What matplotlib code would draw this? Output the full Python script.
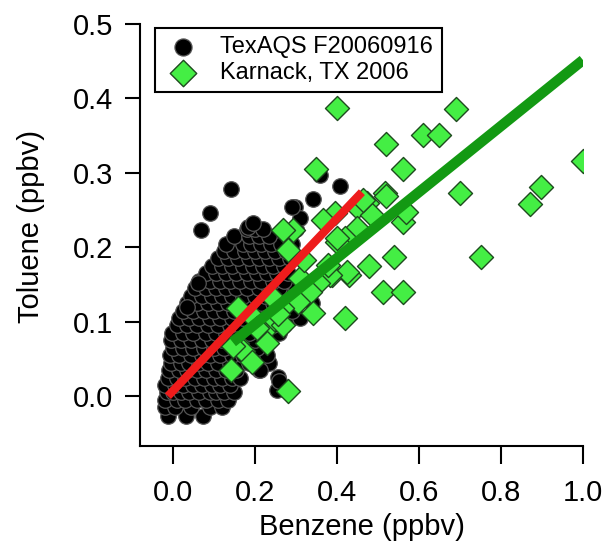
#!/usr/bin/env python3

import numpy as np
import matplotlib
matplotlib.use('Agg')
import matplotlib.pyplot as plt

plt.rcParams['font.family'] = ['Liberation Sans', 'DejaVu Sans']

# TexAQS F20060916 (toluene level, benzene values)
tex_row_y = [-0.027, -0.015, -0.005, 0.005, 0.015, 0.025, 0.035, 0.045, 0.055, 0.065,
             0.075, 0.085, 0.095, 0.105, 0.115, 0.125, 0.135, 0.145, 0.155, 0.165,
             0.175, 0.185, 0.195, 0.205, 0.215, 0.225]
tex_row_x = [
    [-0.012, 0.032, 0.073],
    [-0.018, 0.005, 0.045, 0.09, 0.12],
    [-0.02, 0.01, 0.03, 0.06, 0.08, 0.11, 0.135],
    [-0.015, 0.0, 0.02, 0.04, 0.065, 0.09, 0.105, 0.125, 0.15],
    [-0.02, 0.005, 0.025, 0.05, 0.07, 0.095, 0.115, 0.14],
    [-0.012, 0.01, 0.03, 0.055, 0.075, 0.1, 0.12, 0.145, 0.165],
    [-0.01, 0.015, 0.035, 0.06, 0.08, 0.105, 0.13, 0.155, 0.21],
    [-0.005, 0.02, 0.04, 0.065, 0.085, 0.11, 0.14, 0.165, 0.185, 0.215, 0.235],
    [-0.008, 0.015, 0.045, 0.07, 0.09, 0.115, 0.145, 0.17, 0.2, 0.23],
    [0.0, 0.025, 0.05, 0.075, 0.1, 0.125, 0.15, 0.18, 0.205],
    [-0.004, 0.02, 0.045, 0.07, 0.095, 0.12, 0.145, 0.175, 0.2, 0.225],
    [-0.003, 0.025, 0.05, 0.08, 0.105, 0.13, 0.16, 0.185, 0.215, 0.24, 0.26],
    [0.01, 0.035, 0.06, 0.085, 0.11, 0.14, 0.165, 0.19, 0.22, 0.245, 0.27],
    [0.015, 0.04, 0.065, 0.09, 0.115, 0.145, 0.17, 0.2, 0.23, 0.255, 0.285, 0.31],
    [0.025, 0.05, 0.075, 0.1, 0.125, 0.15, 0.18, 0.205, 0.235, 0.26, 0.29],
    [0.035, 0.06, 0.085, 0.11, 0.135, 0.16, 0.19, 0.215, 0.245, 0.27, 0.34],
    [0.045, 0.07, 0.095, 0.12, 0.145, 0.17, 0.2, 0.225, 0.25, 0.28],
    [0.055, 0.08, 0.105, 0.13, 0.155, 0.18, 0.21, 0.235, 0.26, 0.3],
    [0.065, 0.09, 0.115, 0.14, 0.165, 0.19, 0.215, 0.245, 0.27],
    [0.08, 0.105, 0.13, 0.155, 0.18, 0.205, 0.23, 0.255, 0.28],
    [0.095, 0.12, 0.145, 0.17, 0.195, 0.22, 0.245, 0.27],
    [0.11, 0.135, 0.16, 0.185, 0.21, 0.235, 0.26, 0.285],
    [0.125, 0.15, 0.175, 0.2, 0.225, 0.25, 0.275],
    [0.13, 0.17, 0.19, 0.215, 0.24, 0.265, 0.29],
    [0.15, 0.185, 0.21, 0.235, 0.28],
    [0.18, 0.2, 0.22, 0.3],
]
# scattered TexAQS points outside the main cloud
tex_extra_x = [0.068, 0.09, 0.141, 0.183, 0.195, 0.298, 0.31, 0.341, 0.358, 0.407, 0.29,
               0.212, 0.254, 0.256, 0.26, 0.061, 0.034]
tex_extra_y = [0.223, 0.246, 0.278, 0.227, 0.233, 0.254, 0.239, 0.265, 0.297, 0.283, 0.254,
               0.035, 0.008, 0.026, 0.02, 0.152, 0.12]

# Karnack, TX 2006
kar_x = [0.40, 0.69, 0.61, 0.649, 0.52, 0.561, 1.0, 0.70, 0.517, 0.897, 0.871,
         0.349, 0.52, 0.561, 0.568, 0.539, 0.751, 0.478, 0.429, 0.512, 0.561,
         0.42, 0.388, 0.449, 0.473, 0.485, 0.449, 0.42, 0.40, 0.463, 0.395,
         0.293, 0.268, 0.366, 0.40, 0.424, 0.383, 0.354, 0.334, 0.31, 0.305,
         0.341, 0.244, 0.266, 0.237, 0.268, 0.22, 0.159, 0.195, 0.229, 0.156,
         0.28, 0.32, 0.378, 0.17, 0.192, 0.143, 0.146, 0.28, 0.205, 0.257]
kar_y = [0.387, 0.386, 0.351, 0.351, 0.339, 0.305, 0.316, 0.273, 0.273, 0.281, 0.258,
         0.305, 0.269, 0.234, 0.247, 0.187, 0.187, 0.175, 0.163, 0.14, 0.14,
         0.105, 0.163, 0.254, 0.259, 0.243, 0.226, 0.212, 0.207, 0.263, 0.246,
         0.223, 0.223, 0.237, 0.212, 0.167, 0.163, 0.152, 0.14, 0.159, 0.126,
         0.112, 0.132, 0.118, 0.098, 0.095, 0.086, 0.118, 0.106, 0.071, 0.071,
         0.196, 0.183, 0.176, 0.06, 0.046, 0.035, 0.068, 0.007, 0.091, 0.11]

# fit lines (end points)
tex_fit_x = [-0.012, 0.461]
tex_fit_y = [0.0, 0.274]
kar_fit_x = [0.146, 1.0]
kar_fit_y = [0.0726, 0.4516]

tex_x = np.concatenate([np.array(xs) for xs in tex_row_x] + [tex_extra_x])
tex_y = np.concatenate([np.full(len(xs), yv) for xs, yv in zip(tex_row_x, tex_row_y)] + [tex_extra_y])

fig = plt.figure(figsize=(6.06, 5.43), dpi=100)
ax = fig.add_axes([0.231, 0.1786, 0.731, 0.7772])

ax.scatter(tex_x, tex_y, s=125, c='black', edgecolors='#555555', linewidths=0.9,
           label='TexAQS F20060916', zorder=2)
ax.scatter(kar_x, kar_y, s=150, marker='D', c='#44ee44', edgecolors='#1e4a1e',
           linewidths=1.0, label='Karnack, TX 2006', zorder=3)
ax.plot(tex_fit_x, tex_fit_y, color='#ee1c1c', lw=6, solid_capstyle='butt', zorder=4)
ax.plot(kar_fit_x, kar_fit_y, color='#139913', lw=7.5, solid_capstyle='butt', zorder=4)

ax.set_xlim(-0.08, 1.0)
ax.set_ylim(-0.067, 0.5)
ax.set_xticks([0.0, 0.2, 0.4, 0.6, 0.8, 1.0])
ax.set_yticks([0.0, 0.1, 0.2, 0.3, 0.4, 0.5])
ax.xaxis.set_major_formatter(matplotlib.ticker.FormatStrFormatter('%.1f'))
ax.yaxis.set_major_formatter(matplotlib.ticker.FormatStrFormatter('%.1f'))

for side in ['top', 'right']:
    ax.spines[side].set_visible(False)
for side in ['left', 'bottom']:
    ax.spines[side].set_linewidth(1.5)
ax.tick_params(axis='x', length=13, width=1.5, pad=11, labelsize=21)
ax.tick_params(axis='y', length=11, width=1.5, pad=8, labelsize=21)

ax.set_xlabel('Benzene (ppbv)', fontsize=21, labelpad=4)
ax.set_ylabel('Toluene (ppbv)', fontsize=21)
ax.yaxis.set_label_coords(-0.215, 0.52)

leg = ax.legend(loc='upper left', bbox_to_anchor=(0.035, 0.99), fontsize=17,
                fancybox=False, framealpha=1, edgecolor='black', borderpad=0.35,
                handletextpad=0.8, labelspacing=0.15, handlelength=1.6, borderaxespad=0,
                markerscale=1.1)
leg.get_frame().set_linewidth(1.5)

fig.savefig('out.png', dpi=100)
